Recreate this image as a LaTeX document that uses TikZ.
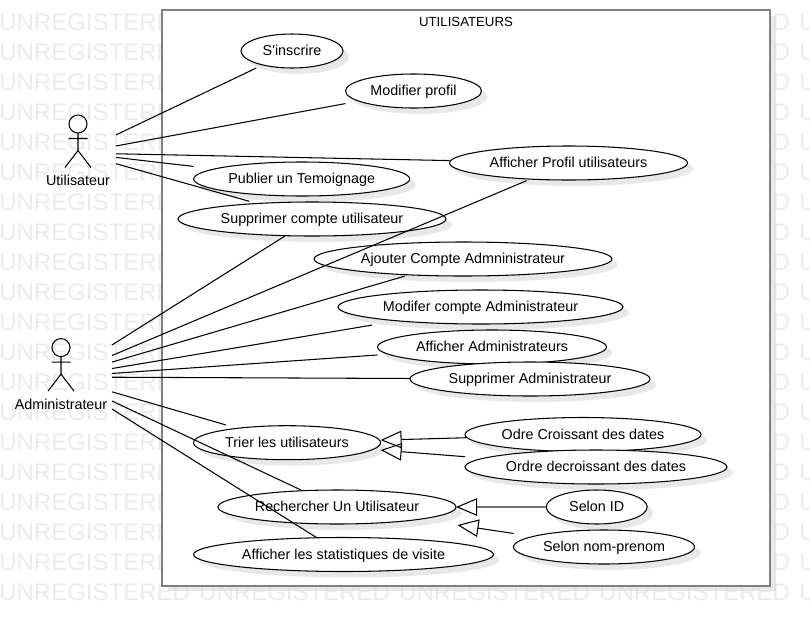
\documentclass[tikz,border=0pt]{standalone}
\usepackage{fontspec}
\setmainfont{Liberation Sans}
\usetikzlibrary{shapes.geometric,arrows.meta,shadows}

\begin{document}
\begin{tikzpicture}[
  x=0.025cm, y=-0.025cm,
  font=\fontsize{10.2}{12}\selectfont,
  usecase/.style={ellipse, draw, fill=white, line width=0.75pt, inner sep=0pt, outer sep=0pt,
    text height=6.4pt, text depth=0pt,
    minimum height=34*0.025cm, minimum width=#1*0.025cm,
    drop shadow={shadow xshift=4.2pt, shadow yshift=-4.2pt, opacity=0.6, fill=black!15}},
  actorbox/.style={rectangle, inner sep=0pt, outer sep=0pt, minimum width=#1*0.025cm, minimum height=76*0.025cm},
  actorlabel/.style={inner sep=0pt, text height=6.4pt, text depth=0pt},
  sysbox/.style={rectangle, draw=black!50, fill=white, line width=1.4pt, inner sep=0pt,
    minimum width=608*0.025cm, minimum height=575.5*0.025cm,
    drop shadow={shadow xshift=4.2pt, shadow yshift=-4.2pt, opacity=0.6, fill=black!15}},
  watermark/.style={anchor=west, inner sep=0pt, text=black!8, font=\fontsize{17.07}{20}\selectfont},
  assoc/.style={line width=0.75pt},
  gen/.style={line width=0.75pt, -{Triangle[open, length=15pt, width=12.5pt, color=black]}},
  trim/.style={shorten >=#1*0.025cm},
  trimstart/.style={shorten <=#1*0.025cm},
  pics/stickman/.style={code={
    \draw[line width=0.75pt] (0,0) circle[radius=9];
    \draw[line width=0.75pt] (0,9) -- (0,26.5) (-9.5,14.5) -- (9.5,14.5) (-13,43.5) -- (0,26.5) -- (13,43.5);
  }},
]
\useasboundingbox (0,0) rectangle (810,626);
\clip (0,0) rectangle (810,626);

% Watermark rows (the middle columns only show below the boundary)
\foreach \r in {0,...,19} {
  \node[watermark] (wmleft\r) at (-1,22+\r*30) {UNREGISTERED};
  \node[watermark] (wmright\r) at (599,22+\r*30) {UNREGISTERED};
  \node[watermark] (wmedge\r) at (799,22+\r*30) {U};
}
\foreach \c in {199,399}
  \node[watermark] (wmbottom\c) at (\c,592) {UNREGISTERED};

% System boundary
\node[sysbox] (system) at (466,297.8) {};
\node[inner sep=0pt, font=\fontsize{9.4}{11}\selectfont] (systitle) at (466,22) {UTILISATEURS};

% Use cases (top to bottom)
\node[usecase=102] (inscrire) at (292,51) {S\textquotesingle inscrire};
\node[usecase=136] (profil) at (413.5,91) {Modifier profil};
\node[usecase=238] (afficherprofil) at (568.5,163) {Afficher Profil utilisateurs};
\node[usecase=216] (temoignage) at (301.7,179) {Publier un Temoignage};
\node[usecase=268] (supprcompte) at (312,219) {Supprimer compte utilisateur};
\node[usecase=298] (ajouter) at (463,259) {Ajouter Compte Admninistrateur};
\node[usecase=285] (modifer) at (480.5,307) {Modifer compte Administrateur};
\node[usecase=229] (afficheradmin) at (492,347) {Afficher Administrateurs};
\node[usecase=240] (suppradmin) at (530,379) {Supprimer Administrateur};
\node[usecase=236] (croissant) at (583,434.5) {Odre Croissant des dates};
\node[usecase=262] (decroissant) at (596,467) {Ordre decroissant des dates};
\node[usecase=187] (trier) at (287,442.7) {Trier les utilisateurs};
\node[usecase=238] (rechercher) at (337,507) {Rechercher Un Utilisateur};
\node[usecase=101] (selonid) at (596.7,507) {Selon ID};
\node[usecase=181] (selonnom) at (604,547) {Selon nom-prenom};
\node[usecase=300] (stats) at (343.5,554.5) {Afficher les statistiques de visite};

% Actors
\node[actorbox=76] (utilisateur) at (78,153) {};
\pic at (78,124) {stickman};
\node[actorlabel] (utilisateurlbl) at (78,181) {Utilisateur};
\node[actorbox=102] (administrateur) at (61,377) {};
\pic at (61,347.6) {stickman};
\node[actorlabel] (administrateurlbl) at (61,405) {Administrateur};

% Associations of Utilisateur
\draw[assoc, trim=7.1] (utilisateur) -- (inscrire);
\draw[assoc, trim=13.6] (utilisateur) -- (profil);
\draw[assoc, trim=1.2] (utilisateur) -- (afficherprofil);
\draw[assoc, trim=21.3] (utilisateur) -- (temoignage);
\draw[assoc, trim=8] (utilisateur) -- (supprcompte);

% Associations of Administrateur
\draw[assoc, trim=0.6] (administrateur) -- (supprcompte);
\draw[assoc, trim=4] (administrateur) -- (afficherprofil);
\draw[assoc, trim=4.1] (administrateur) -- (ajouter);
\draw[assoc, trim=26] (administrateur) -- (modifer);
\draw[assoc, trim=10.9] (administrateur) -- (afficheradmin);
\draw[assoc] (administrateur) -- (suppradmin);
\draw[assoc, trim=12] (administrateur) -- (trier);
\draw[assoc, trim=1.7] (administrateur) -- (rechercher);
\draw[assoc, trim=0.6] (administrateur) -- (stats);

% Generalizations
\draw[gen, trimstart=1.2, trim=1.1] (croissant) -- (trier);
\draw[gen, trimstart=19, trim=7.8] (decroissant) -- (trier);
\draw[gen, draw=black!55] (selonid) -- (rechercher);
\draw[gen, trimstart=20, trim=38.8] (selonnom) -- (rechercher);

\end{tikzpicture}
\end{document}
